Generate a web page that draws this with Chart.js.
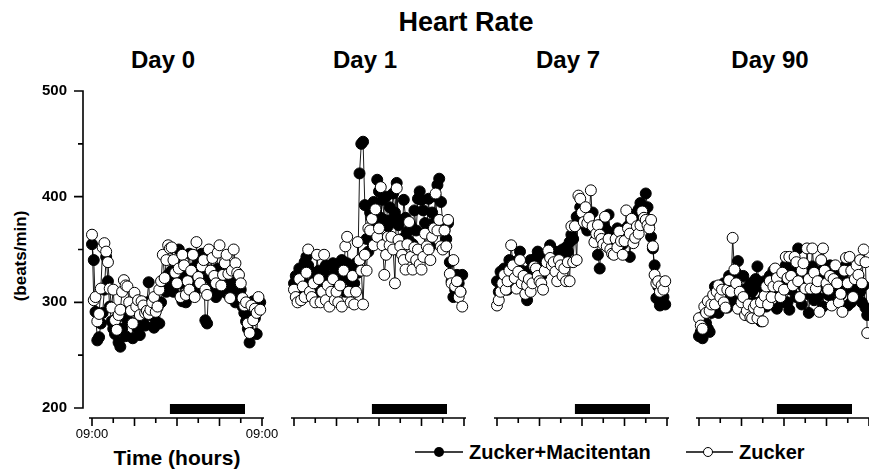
<!DOCTYPE html>
<html>
<head>
<meta charset="utf-8">
<title>Heart Rate</title>
<script src="https://cdn.jsdelivr.net/npm/chart.js@4.4.1/dist/chart.umd.min.js"></script>
<style>
  html, body { margin: 0; padding: 0; background: #fff; }
  body { width: 869px; height: 471px; position: relative; overflow: hidden;
         font-family: "Liberation Sans", Arial, Helvetica, sans-serif; color: #000; }
  canvas { position: absolute; top: 0; }
  .lbl { position: absolute; font-weight: bold; white-space: nowrap; line-height: 1; }
  .leg { position: absolute; top: 442px; height: 20px; display: flex; align-items: center; }
  .leg span { font-weight: bold; font-size: 20px; line-height: 1; margin-left: 6px; }
</style>
</head>
<body>
<div class="lbl" style="font-size:27px; left:466px; top:9px; transform:translateX(-50%)">Heart Rate</div>
<div class="lbl" style="font-size:17px; left:20px; top:256px; transform:translate(-50%,-50%) rotate(-90deg)">(beats/min)</div>
<div class="lbl" style="font-size:21px; left:177px; top:447px; transform:translateX(-50%)">Time (hours)</div>
<div class="leg" style="left:415px">
  <svg width="48" height="12"><line x1="0" y1="6" x2="48" y2="6" stroke="#000" stroke-width="1.3"/><circle cx="24" cy="6" r="5" fill="#000"/></svg>
  <span>Zucker+Macitentan</span>
</div>
<div class="leg" style="left:686px">
  <svg width="47" height="12"><line x1="0" y1="6" x2="47" y2="6" stroke="#000" stroke-width="1.3"/><circle cx="22" cy="6" r="4.5" fill="#fff" stroke="#000" stroke-width="1"/></svg>
  <span>Zucker</span>
</div>

<script>
// Data: heart rate (beats/min), one reading every 15 min starting 09:00
const days = ['Day 0', 'Day 1', 'Day 7', 'Day 90'];
const sampleStep = 0.25; // hours

const macitentanDay0 = [
  355, 340, 291, 264, 267, 280, 290, 312,
  343, 320, 296, 282, 275, 270, 285, 262,
  258, 275, 290, 268, 283, 294, 300, 266,
  280, 292, 275, 269, 290, 285, 278, 300,
  319, 288, 292, 276, 282, 295, 280, 300,
  313, 318, 310, 326, 316, 330, 310, 322,
  335, 350, 318, 301, 325, 300, 330, 346,
  320, 332, 310, 325, 338, 315, 346, 332,
  283, 280, 323, 310, 328, 318, 305, 332,
  315, 310, 322, 332, 315, 307, 325, 318,
  310, 300, 318, 307, 312, 296, 290, 282,
  275, 262, 291, 301, 285, 270, 296, 300];
const zuckerDay0 = [
  364, 302, 305, 282, 289, 313, 352, 356,
  348, 338, 313, 295, 312, 283, 274, 288,
  293, 310, 321, 316, 315, 300, 292, 280,
  309, 296, 302, 288, 301, 297, 290, 292,
  289, 293, 300, 305, 291, 296, 312, 320,
  345, 323, 340, 354, 351, 352, 340, 328,
  318, 332, 305, 345, 335, 307, 320, 312,
  330, 345, 305, 357, 324, 318, 334, 340,
  312, 307, 350, 330, 342, 325, 318, 347,
  354, 316, 326, 337, 345, 327, 304, 330,
  350, 337, 328, 326, 318, 304, 297, 300,
  280, 271, 297, 283, 294, 290, 305, 293];

const macitentanDay1 = [
  318, 325, 310, 332, 306, 320, 338, 343,
  335, 330, 318, 312, 325, 308, 330, 320,
  314, 328, 335, 322, 306, 318, 337, 330,
  327, 315, 332, 340, 325, 310, 337, 328,
  320, 330, 318, 337, 328, 422, 450, 452,
  392, 360, 348, 385, 372, 395, 380, 416,
  405, 380, 397, 378, 400, 372, 390, 378,
  403, 385, 413, 373, 378, 360, 397, 380,
  367, 358, 372, 355, 387, 368, 398, 405,
  397, 387, 375, 368, 398, 353, 385, 375,
  400, 411, 417, 395, 375, 368, 360, 375,
  338, 320, 305, 312, 326, 318, 310, 326];
const zuckerDay1 = [
  312, 305, 300, 322, 302, 315, 305, 328,
  350, 310, 305, 318, 300, 345, 322, 300,
  310, 345, 302, 316, 296, 310, 322, 302,
  310, 300, 316, 296, 330, 353, 362, 310,
  300, 325, 298, 310, 357, 340, 330, 298,
  345, 330, 370, 368, 379, 354, 388, 362,
  370, 409, 354, 326, 345, 362, 354, 362,
  350, 318, 408, 359, 353, 345, 340, 331,
  355, 376, 343, 331, 352, 340, 350, 336,
  331, 343, 365, 353, 350, 340, 362, 370,
  403, 368, 378, 353, 350, 368, 353, 378,
  327, 318, 340, 315, 320, 305, 310, 296];

const macitentanDay7 = [
  320, 310, 329, 318, 332, 322, 312, 340,
  328, 318, 335, 325, 340, 348, 330, 322,
  318, 302, 330, 340, 325, 335, 342, 348,
  335, 325, 342, 338, 345, 340, 354, 350,
  338, 345, 330, 348, 340, 350, 345, 352,
  348, 357, 364, 360, 372, 381, 378, 390,
  385, 378, 372, 368, 380, 372, 385, 368,
  360, 345, 332, 362, 375, 370, 368, 383,
  365, 358, 350, 362, 370, 358, 365, 355,
  360, 370, 372, 343, 365, 380, 372, 385,
  388, 394, 388, 385, 403, 390, 375, 362,
  351, 335, 304, 315, 297, 300, 305, 298];
const zuckerDay7 = [
  297, 302, 310, 318, 326, 312, 320, 330,
  354, 335, 323, 313, 329, 340, 318, 325,
  308, 316, 322, 310, 318, 334, 332, 325,
  320, 318, 312, 330, 338, 349, 342, 335,
  338, 329, 320, 340, 335, 325, 332, 320,
  338, 320, 372, 338, 372, 340, 401, 398,
  385, 376, 390, 375, 380, 406, 372, 357,
  365, 373, 364, 360, 355, 381, 353, 360,
  350, 346, 345, 360, 352, 367, 358, 345,
  358, 387, 370, 365, 379, 356, 361, 372,
  365, 373, 386, 380, 378, 373, 370, 378,
  353, 326, 318, 320, 310, 316, 312, 320];

const macitentanDay90 = [
  268, 272, 266, 288, 280, 275, 272, 290,
  298, 315, 306, 290, 301, 295, 318, 310,
  295, 325, 310, 302, 318, 328, 339, 308,
  294, 325, 312, 300, 290, 318, 310, 300,
  322, 334, 315, 282, 303, 320, 296, 310,
  325, 309, 330, 312, 294, 318, 305, 300,
  318, 335, 300, 293, 312, 320, 330, 305,
  351, 322, 298, 315, 330, 308, 290, 318,
  334, 302, 320, 305, 322, 330, 296, 315,
  320, 307, 335, 318, 300, 312, 328, 310,
  307, 325, 318, 335, 297, 312, 300, 320,
  305, 316, 325, 310, 300, 316, 295, 288];
const zuckerDay90 = [
  285, 278, 275, 296, 290, 301, 292, 298,
  307, 298, 310, 316, 305, 312, 300, 295,
  312, 321, 310, 361, 331, 318, 294, 310,
  300, 305, 288, 292, 298, 286, 285, 295,
  298, 285, 292, 300, 282, 306, 315, 298,
  320, 305, 315, 332, 323, 315, 305, 328,
  312, 343, 323, 343, 325, 316, 343, 338,
  320, 305, 330, 337, 313, 351, 322, 313,
  351, 328, 313, 320, 291, 340, 351, 330,
  318, 312, 325, 297, 322, 335, 318, 300,
  308, 291, 330, 342, 318, 343, 330, 305,
  322, 335, 326, 340, 318, 350, 338, 271];

const macitentanSeries = [macitentanDay0, macitentanDay1, macitentanDay7, macitentanDay90];
const zuckerSeries = [zuckerDay0, zuckerDay1, zuckerDay7, zuckerDay90];

// Axes
const yTicks = [200, 300, 400, 500];
const yMinorTicks = [250, 350, 450];
const hourTicks = [0, 3, 6, 9, 12, 15, 18, 21, 24];
const hourMajorTicks = [0, 6, 12, 18, 24];
const timeTickLabels = ['09:00', '', '', '', '', '', '', '', '09:00'];
const darkPeriod = [11, 21.6]; // hours after 09:00

// Layout (pixels)
const FONT = '"Liberation Sans", Arial, Helvetica, sans-serif';
const panelLeft = [92, 294, 497, 699];   // pixel of hour 0 in each panel
const pxPerHour = 170 / 24;
const plotLeft = 83, plotTop = 91, plotBottom = 418, canvasW = 292, canvasH = 471;
const y200Px = 408;
const yMin = 200 - (plotBottom - y200Px) * (500 - 200) / (y200Px - plotTop);

const axesPlugin = {
  id: 'prismAxes',
  beforeDatasetsDraw(chart) {
    const ctx = chart.ctx;
    const x = chart.scales.x, y = chart.scales.y;
    const axisY = chart.chartArea.bottom;
    const base = y.getPixelForValue(yTicks[0]);
    const showLabels = chart.options.plugins.prismAxes.labels;
    ctx.save();
    ctx.fillStyle = '#000';
    ctx.strokeStyle = '#000';

    // dark phase bar
    const b0 = x.getPixelForValue(darkPeriod[0]);
    const b1 = x.getPixelForValue(darkPeriod[1]);
    ctx.fillRect(b0, base - 4, b1 - b0, 10);

    // x axis
    ctx.lineWidth = 1.6;
    ctx.beginPath();
    ctx.moveTo(x.getPixelForValue(hourTicks[0]) - 3, axisY);
    ctx.lineTo(x.getPixelForValue(hourTicks[hourTicks.length - 1]) + 2, axisY);
    hourTicks.forEach(h => {
      const px = x.getPixelForValue(h);
      const len = hourMajorTicks.includes(h) ? 8 : 5;
      ctx.moveTo(px, axisY);
      ctx.lineTo(px, axisY + len);
    });
    ctx.stroke();

    if (showLabels) {
      ctx.font = '13px ' + FONT;
      ctx.textAlign = 'center';
      ctx.textBaseline = 'alphabetic';
      hourTicks.forEach((h, k) => {
        if (timeTickLabels[k]) ctx.fillText(timeTickLabels[k], x.getPixelForValue(h), axisY + 20);
      });

      // y axis (first panel only)
      const ax = chart.chartArea.left;
      ctx.beginPath();
      ctx.moveTo(ax, y.getPixelForValue(yTicks[yTicks.length - 1]) - 0.8);
      ctx.lineTo(ax, base + 0.8);
      yTicks.forEach(v => {
        const py = y.getPixelForValue(v);
        ctx.moveTo(ax, py);
        ctx.lineTo(ax - 9, py);
      });
      yMinorTicks.forEach(v => {
        const py = y.getPixelForValue(v);
        ctx.moveTo(ax, py);
        ctx.lineTo(ax - 5, py);
      });
      ctx.stroke();
    }
    ctx.restore();
  }
};

function toPoints(values) {
  return values.map((v, i) => ({ x: i * sampleStep, y: v }));
}

function seriesStyle(fill) {
  return {
    borderColor: '#000',
    borderWidth: 0.9,
    pointRadius: 5.5,
    pointBorderWidth: 1,
    pointBorderColor: '#000',
    pointBackgroundColor: fill,
    tension: 0,
    clip: false
  };
}

days.forEach((day, i) => {
  const first = i === 0;

  const lbl = document.createElement('div');
  lbl.className = 'lbl';
  lbl.textContent = day;
  lbl.style.cssText = 'font-size:24px; top:48px; transform:translateX(-50%); left:' + (panelLeft[i] + 71) + 'px';
  document.body.appendChild(lbl);

  const canvas = document.createElement('canvas');
  canvas.width = canvasW;
  canvas.height = canvasH;
  canvas.style.left = (panelLeft[i] - 92) + 'px';
  canvas.style.width = canvasW + 'px';
  canvas.style.height = canvasH + 'px';
  document.body.appendChild(canvas);

  new Chart(canvas, {
    type: 'line',
    data: {
      datasets: [
        Object.assign({ label: 'Zucker', data: toPoints(zuckerSeries[i]) }, seriesStyle('#fff')),
        Object.assign({ label: 'Zucker+Macitentan', data: toPoints(macitentanSeries[i]) }, seriesStyle('#000'))
      ]
    },
    options: {
      responsive: false,
      animation: false,
      devicePixelRatio: 1,
      events: [],
      layout: {
        autoPadding: false,
        padding: { left: 0, top: plotTop, right: 0, bottom: 0 }
      },
      plugins: {
        legend: { display: false },
        tooltip: { enabled: false },
        prismAxes: { labels: first }
      },
      scales: {
        x: {
          type: 'linear',
          min: -(92 - plotLeft) / pxPerHour,
          max: (canvasW - 92) / pxPerHour,
          afterFit: s => { s.height = canvasH - plotBottom; },
          afterBuildTicks: s => { s.ticks = hourTicks.map(v => ({ value: v })); },
          grid: { display: false, drawTicks: false },
          border: { display: false },
          ticks: { display: false }
        },
        y: {
          min: yMin,
          max: yTicks[yTicks.length - 1],
          afterFit: s => { s.width = plotLeft; },
          afterBuildTicks: s => { s.ticks = yTicks.map(v => ({ value: v })); },
          grid: { display: false, drawTicks: false },
          border: { display: false },
          ticks: {
            display: first,
            padding: 16,
            color: '#000',
            font: { family: FONT, size: 15, weight: 'bold' }
          }
        }
      }
    },
    plugins: [axesPlugin]
  });
});
</script>
</body>
</html>
